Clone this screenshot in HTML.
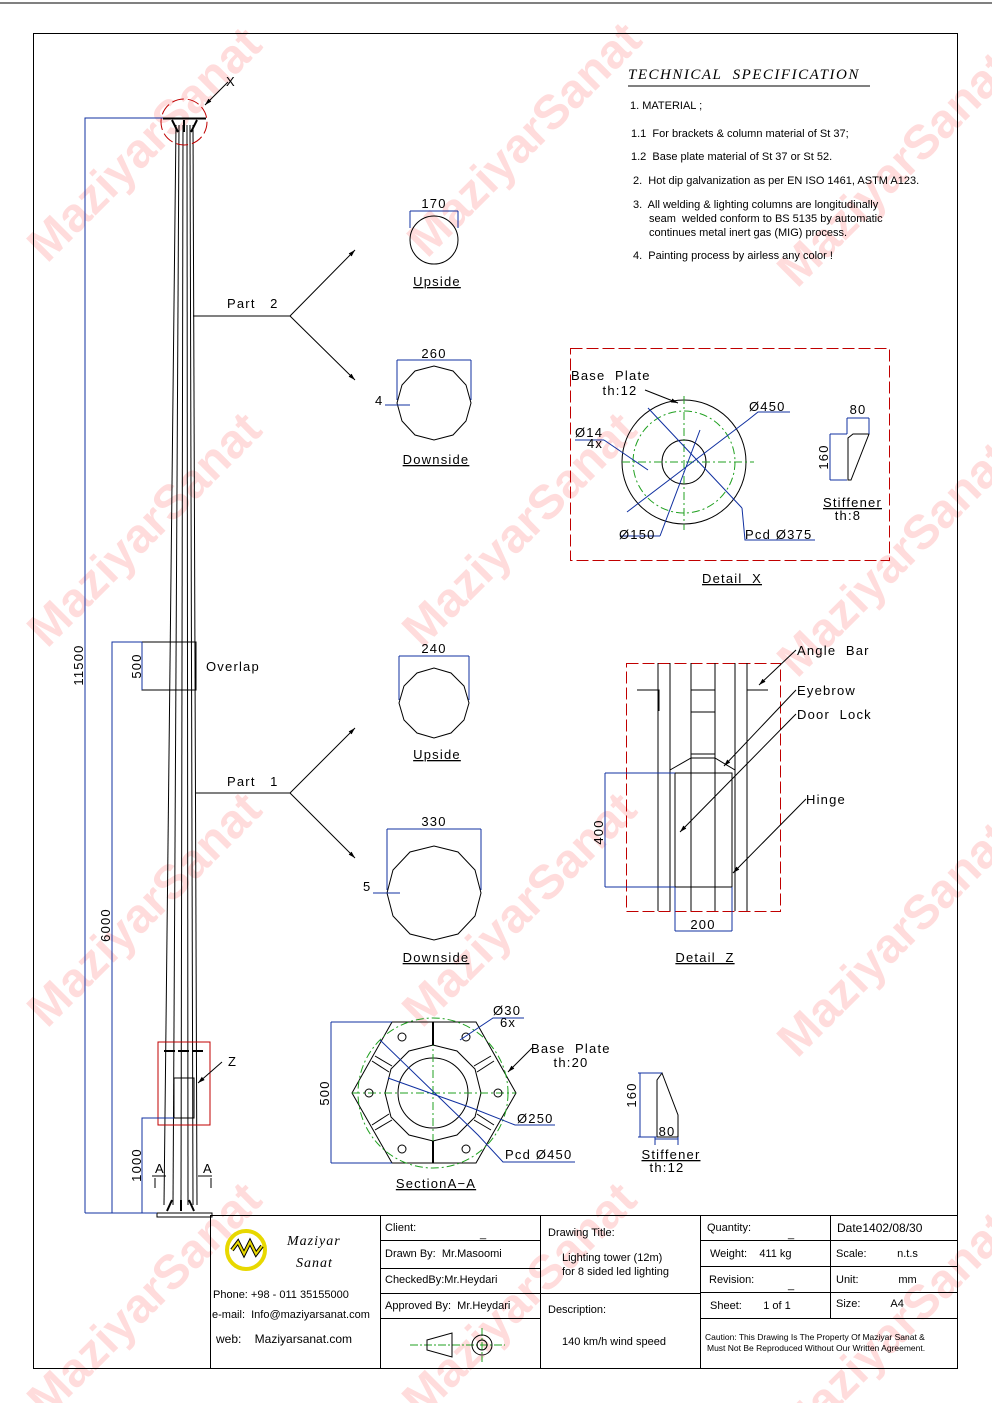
<!DOCTYPE html>
<html><head><meta charset="utf-8"><style>
html,body{margin:0;padding:0;background:#fff}
svg{display:block}
text{font-family:"Liberation Sans",sans-serif;white-space:pre}
.m{font-family:"Liberation Sans",sans-serif;letter-spacing:1.2px;font-size:13px}
.b{stroke:#1030a0;fill:none;stroke-width:1}
.k{stroke:#000;fill:none;stroke-width:1}
.g{stroke:#20a020;fill:none;stroke-width:1;stroke-dasharray:8 3 2 3}
.r{stroke:#c00000;fill:none;stroke-width:1;stroke-dasharray:12 4}
.s{font-size:11px}
.sf{font-family:"Liberation Serif",serif;font-style:italic}
</style></head><body>
<svg width="992" height="1403" viewBox="0 0 992 1403" xmlns="http://www.w3.org/2000/svg" xml:space="preserve">
<defs><marker id="a" viewBox="0 0 10 10" refX="10" refY="5" markerWidth="7" markerHeight="7" orient="auto"><path d="M0 2 L10 5 L0 8 Z" fill="#000"/></marker></defs>
<rect width="992" height="1403" fill="#fff"/>
<!-- watermarks -->
<g fill="#ff3030" fill-opacity="0.17" font-size="48" font-weight="bold" text-anchor="middle">
<text x="145" y="160" transform="rotate(-45 145 145)">MaziyarSanat</text>
<text x="525" y="155" transform="rotate(-45 525 140)">MaziyarSanat</text>
<text x="895" y="185" transform="rotate(-45 895 170)">MaziyarSanat</text>
<text x="145" y="545" transform="rotate(-45 145 530)">MaziyarSanat</text>
<text x="520" y="545" transform="rotate(-45 520 530)">MaziyarSanat</text>
<text x="895" y="575" transform="rotate(-45 895 560)">MaziyarSanat</text>
<text x="145" y="925" transform="rotate(-45 145 910)">MaziyarSanat</text>
<text x="520" y="925" transform="rotate(-45 520 910)">MaziyarSanat</text>
<text x="895" y="955" transform="rotate(-45 895 940)">MaziyarSanat</text>
<text x="145" y="1315" transform="rotate(-45 145 1300)">MaziyarSanat</text>
<text x="520" y="1315" transform="rotate(-45 520 1300)">MaziyarSanat</text>
<text x="895" y="1345" transform="rotate(-45 895 1330)">MaziyarSanat</text>
</g>
<line x1="0" y1="3" x2="992" y2="3" stroke="#000"/>
<rect x="33.5" y="33.5" width="924" height="1335" class="k"/>

<!-- pole -->
<g class="k">
<line x1="176" y1="125" x2="164" y2="1205"/>
<line x1="193" y1="125" x2="197" y2="1205"/>
<line x1="179" y1="125" x2="173" y2="1205"/>
<line x1="183" y1="125" x2="181" y2="1205"/>
<line x1="187" y1="125" x2="188" y2="1205"/>
<line x1="190" y1="125" x2="193" y2="1205"/>
<line x1="163" y1="118.5" x2="206" y2="118.5" stroke-width="2"/>
<path d="M172 120 L178 132 M197 120 L191 132 M184 120 V132" stroke-width="2"/>
<rect x="157" y="1213" width="55" height="4"/>
<path d="M167 1211 L172 1200 M194 1211 L189 1200 M181 1211 V1200" stroke-width="2"/>
<rect x="142" y="642" width="54" height="48"/>
<rect x="174" y="1078" width="20" height="40"/>
<path d="M164 1051 H175 M178 1051 H189 M192 1051 H203" stroke-width="2"/>
<path d="M155 1178 V1188 M152 1176 H166 M211 1178 V1188 M198 1176 H212"/>
</g>
<circle cx="184" cy="122" r="23" class="r" stroke-dasharray="8 4"/>
<rect x="158" y="1042" width="52" height="83" fill="none" stroke="#c00000"/>
<line x1="228" y1="82" x2="205" y2="105" class="k" marker-end="url(#a)"/>
<text x="226" y="86" class="m">X</text>
<line x1="222" y1="1062" x2="198" y2="1083" class="k" marker-end="url(#a)"/>
<text x="228" y="1066" class="m">Z</text>
<text x="155" y="1173" class="m">A</text><text x="203" y="1173" class="m">A</text>

<g class="b">
<path d="M85 1213 V118 H163"/>
<path d="M112 1213 V642 H142"/>
<path d="M142 1213 V1118 H174"/>
<path d="M142 642 V690"/>
<path d="M85 1213 H157"/>
</g>
<g class="m" font-size="14">
<text transform="translate(83 665) rotate(-90)" text-anchor="middle">11500</text>
<text transform="translate(110 925) rotate(-90)" text-anchor="middle">6000</text>
<text transform="translate(141 1165) rotate(-90)" text-anchor="middle">1000</text>
<text transform="translate(141 666) rotate(-90)" text-anchor="middle">500</text>
</g>
<text x="206" y="671" class="m">Overlap</text>

<g class="k">
<path d="M193 316 H290"/><path d="M290 316 L355 250" marker-end="url(#a)"/><path d="M290 316 L355 380" marker-end="url(#a)"/>
<path d="M196 793 H290"/><path d="M290 793 L355 728" marker-end="url(#a)"/><path d="M290 793 L355 858" marker-end="url(#a)"/>
</g>
<text x="227" y="308" class="m">Part   2</text>
<text x="227" y="786" class="m">Part   1</text>

<circle cx="434" cy="240" r="24" class="k" stroke-width="2"/>
<path d="M410 211 H458 M410 211 V228 M458 211 V228" class="b"/>
<text x="434" y="208" class="m" text-anchor="middle" font-size="14">170</text>
<text x="437" y="286" class="m" text-anchor="middle" text-decoration="underline">Upside</text>
<polygon class="k" stroke-width="2" points="471,403 466,421 453,435 434,440 415,435 402,421 397,403 402,385 415,371 434,366 453,371 466,385"/>
<path d="M397 360 H471 M397 360 V400 M471 360 V400" class="b"/>
<text x="434" y="358" class="m" text-anchor="middle" font-size="14">260</text>
<text x="375" y="405" class="m">4</text><path d="M385 405 H410" class="b"/>
<text x="436" y="464" class="m" text-anchor="middle" text-decoration="underline">Downside</text>

<polygon class="k" stroke-width="2" points="469,703 464,720 451,733 434,738 417,733 404,720 399,703 404,686 417,673 434,668 451,673 464,686"/>
<path d="M399 656 H469 M399 656 V700 M469 656 V700" class="b"/>
<text x="434" y="653" class="m" text-anchor="middle" font-size="14">240</text>
<text x="437" y="759" class="m" text-anchor="middle" text-decoration="underline">Upside</text>
<polygon class="k" stroke-width="2" points="481,893 475,916 458,934 434,940 410,934 393,916 387,893 393,870 410,852 434,846 458,852 475,870"/>
<path d="M387 829 H481 M387 829 V890 M481 829 V890" class="b"/>
<text x="434" y="826" class="m" text-anchor="middle" font-size="14">330</text>
<text x="363" y="891" class="m">5</text><path d="M373 893 H400" class="b"/>
<text x="436" y="962" class="m" text-anchor="middle" text-decoration="underline">Downside</text>

<text x="628" y="79" class="sf" font-size="15" letter-spacing="1.5">TECHNICAL  SPECIFICATION</text>
<line x1="628" y1="86" x2="870" y2="86" stroke="#000"/>
<g class="s">
<text x="630" y="109">1. MATERIAL ;</text>
<text x="631" y="137">1.1  For brackets &amp; column material of St 37;</text>
<text x="631" y="160">1.2  Base plate material of St 37 or St 52.</text>
<text x="633" y="184">2.  Hot dip galvanization as per EN ISO 1461, ASTM A123.</text>
<text x="633" y="208">3.  All welding &amp; lighting columns are longitudinally</text>
<text x="649" y="222">seam  welded conform to BS 5135 by automatic</text>
<text x="649" y="236">continues metal inert gas (MIG) process.</text>
<text x="633" y="259">4.  Painting process by airless any color !</text>
</g>

<rect x="570.5" y="348.5" width="319" height="212" class="r"/>
<circle cx="684" cy="462" r="62" class="k"/>
<circle cx="684" cy="462" r="51" class="g" stroke-dasharray="10 3"/>
<circle cx="684" cy="462" r="22" class="k"/>
<path d="M622 462 H754 M684 396 V530" class="g"/>
<g class="b">
<path d="M648 408 L742 508 M627 512 L748 420 M660 536 L700 430 M604 440 L648 470 M604 440 H575 M742 508 L745 540 H815 M748 420 L758 412 H790 M660 536 H620"/>
</g>
<path d="M645 390 L678 403" class="k" marker-end="url(#a)"/>
<text x="571" y="380" class="m">Base  Plate</text>
<text x="620" y="395" class="m" font-size="12" text-anchor="middle">th:12</text>
<text x="749" y="411" class="m">Ø450</text>
<text x="575" y="437" class="m">Ø14</text><text x="587" y="448" class="m" font-size="11">4x</text>
<text x="619" y="539" class="m">Ø150</text>
<text x="745" y="539" class="m">Pcd Ø375</text>
<path d="M848 480 V438 L853 434 H869 L851 480 Z" class="k"/>
<path d="M847 418 H869 M847 418 V434 M869 418 V434 M830 434 V480 M830 434 H847 M830 480 H847" class="b"/>
<text x="858" y="414" class="m" text-anchor="middle">80</text>
<text transform="translate(828 457) rotate(-90)" class="m" text-anchor="middle">160</text>
<text x="823" y="507" class="m" text-decoration="underline">Stiffener</text>
<text x="848" y="520" class="m" font-size="12" text-anchor="middle">th:8</text>
<text x="732" y="583" class="m" text-anchor="middle" text-decoration="underline">Detail  X</text>

<rect x="626.5" y="663.5" width="154" height="248" class="r"/>
<g class="k">
<path d="M658 663 V911 M670 663 V911 M691 663 V911 M715 663 V911 M735 663 V911 M747 663 V911"/>
<path d="M637 690 H659 V711 M768 690 H747 V711 M691 690 H715 M691 712 H715"/>
<path d="M670 770 L691 758 H715 L735 770 M674 773 H732 M691 754 H715"/>
<rect x="675" y="773" width="57" height="114"/>
</g>
<path d="M605 773 H675 M605 887 H675 M605 773 V887 M675 887 V931 M732 887 V931 M675 931 H732" class="b"/>
<text transform="translate(603 832) rotate(-90)" class="m" text-anchor="middle" font-size="14">400</text>
<text x="703" y="929" class="m" text-anchor="middle" font-size="14">200</text>
<g class="k"><path d="M796 650 L759 685" marker-end="url(#a)"/><path d="M796 690 L724 766" marker-end="url(#a)"/><path d="M796 714 L680 832" marker-end="url(#a)"/><path d="M806 799 L733 873" marker-end="url(#a)"/></g>
<text x="797" y="655" class="m">Angle  Bar</text>
<text x="797" y="695" class="m">Eyebrow</text>
<text x="797" y="719" class="m">Door  Lock</text>
<text x="806" y="804" class="m">Hinge</text>
<text x="705" y="962" class="m" text-anchor="middle" text-decoration="underline">Detail  Z</text>

<polygon points="392,1022 476,1022 516,1093 476,1163 392,1163 352,1093" class="k"/>
<circle cx="433" cy="1093" r="75" class="g"/>
<polygon class="k" stroke-width="2.5" points="481,1093 475,1117 457,1135 433,1141 409,1135 391,1117 385,1093 391,1069 409,1051 433,1045 457,1051 475,1069"/>
<circle cx="433" cy="1093" r="35" class="k"/>
<path d="M352 1093 H516 M433 1022 V1163" class="g" stroke-dasharray="none"/>
<path d="M433 1022 V1045 M433 1141 V1163" stroke="#000" stroke-width="2"/>
<g class="k"><circle cx="402" cy="1037" r="4"/><circle cx="466" cy="1037" r="4"/><circle cx="369" cy="1093" r="4"/><circle cx="498" cy="1093" r="4"/><circle cx="402" cy="1149" r="4"/><circle cx="466" cy="1149" r="4"/>
<path d="M372 1061 L389 1072 M375 1056 L392 1066 M372 1125 L389 1114 M375 1130 L392 1120 M494 1061 L477 1072 M491 1056 L474 1066 M494 1125 L477 1114 M491 1130 L474 1120"/></g>
<path d="M331 1022 H392 M331 1163 H392 M331 1022 V1163" class="b"/>
<text transform="translate(329 1093) rotate(-90)" class="m" text-anchor="middle" font-size="14">500</text>
<path d="M380 1040 L478 1135 L503 1162 H575 M388 1078 L472 1108 L515 1125 H555 M460 1040 L493 1018 H524" class="b"/>
<path d="M532 1048 L508 1072" class="k" marker-end="url(#a)"/>
<text x="493" y="1015" class="m" font-size="14">Ø30</text><text x="500" y="1027" class="m" font-size="12">6x</text>
<text x="531" y="1053" class="m" font-size="14">Base  Plate</text>
<text x="571" y="1067" class="m" font-size="12" text-anchor="middle">th:20</text>
<text x="517" y="1123" class="m" font-size="14">Ø250</text>
<text x="505" y="1159" class="m" font-size="14">Pcd Ø450</text>
<text x="436" y="1188" class="m" text-anchor="middle" text-decoration="underline">SectionA−A</text>
<path d="M657 1137 V1080 L662 1073 L678 1115 V1137 Z" class="k"/>
<path d="M638 1073 H662 M638 1137 H657 M640 1073 V1137 M655 1137 V1145 M678 1137 V1145 M655 1139 H678" class="b"/>
<text transform="translate(636 1095) rotate(-90)" class="m" text-anchor="middle">160</text>
<text x="667" y="1136" class="m" text-anchor="middle">80</text>
<text x="671" y="1159" class="m" text-decoration="underline" text-anchor="middle">Stiffener</text>
<text x="667" y="1172" class="m" font-size="12" text-anchor="middle">th:12</text>

<g class="k">
<path d="M210 1215.5 H958 M210.5 1215 V1368 M380.5 1215 V1368 M540.5 1215 V1368 M700.5 1215 V1368 M830.5 1215 V1318"/>
<path d="M380 1240.5 H540 M380 1268.5 H540 M380 1293.5 H540 M380 1318.5 H540 M540 1293.5 H700"/>
<path d="M700 1240.5 H958 M700 1266.5 H958 M700 1292.5 H958 M700 1318.5 H958"/>
</g>
<circle cx="246" cy="1250" r="19" fill="none" stroke="#e8d800" stroke-width="4"/>
<path d="M232 1250 L238 1242 L244 1254 L250 1242 L256 1254 L262 1246" fill="none" stroke="#000" stroke-width="4"/>
<path d="M232 1250 L238 1242 L244 1254 L250 1242 L256 1254 L262 1246" fill="none" stroke="#e8d800" stroke-width="2"/>
<text x="287" y="1245" class="sf" font-size="14" letter-spacing="1">Maziyar</text>
<text x="296" y="1267" class="sf" font-size="14" letter-spacing="1">Sanat</text>
<g font-size="11">
<text x="213" y="1298">Phone: +98 - 011 35155000</text>
<text x="212" y="1318">e-mail:  Info@maziyarsanat.com</text>
<text x="216" y="1343" font-size="12">web:    Maziyarsanat.com</text>
<text x="385" y="1231">Client:</text><text x="480" y="1237">_</text>
<text x="385" y="1257">Drawn By:  Mr.Masoomi</text>
<text x="385" y="1283">CheckedBy:Mr.Heydari</text>
<text x="385" y="1309">Approved By:  Mr.Heydari</text>
<text x="548" y="1236">Drawing Title:</text>
<text x="562" y="1261">Lighting tower (12m)</text>
<text x="562" y="1275">for 8 sided led lighting</text>
<text x="548" y="1313">Description:</text>
<text x="562" y="1345">140 km/h wind speed</text>
<text x="707" y="1231">Quantity:</text><text x="788" y="1237">_</text>
<text x="710" y="1257">Weight:    411 kg</text>
<text x="709" y="1283">Revision:</text><text x="788" y="1288">_</text>
<text x="710" y="1309">Sheet:       1 of 1</text>
<text x="837" y="1232" font-size="12">Date1402/08/30</text>
<text x="836" y="1257">Scale:          n.t.s</text>
<text x="836" y="1283">Unit:             mm</text>
<text x="836" y="1307">Size:          A4</text>
<text x="705" y="1340" font-size="8.5">Caution: This Drawing Is The Property Of Maziyar Sanat &amp;</text>
<text x="707" y="1351" font-size="8.5">Must Not Be Reproduced Without Our Written Agreement.</text>
</g>
<path d="M410 1345 H505 M482 1328 V1362" stroke="#20a020" stroke-dasharray="8 2 2 2"/>
<path d="M427 1340 L452 1333 V1357 L427 1350 Z" class="k"/>
<circle cx="482" cy="1345" r="10" class="k"/><circle cx="482" cy="1345" r="5" class="k"/>
</svg>
</body></html>
